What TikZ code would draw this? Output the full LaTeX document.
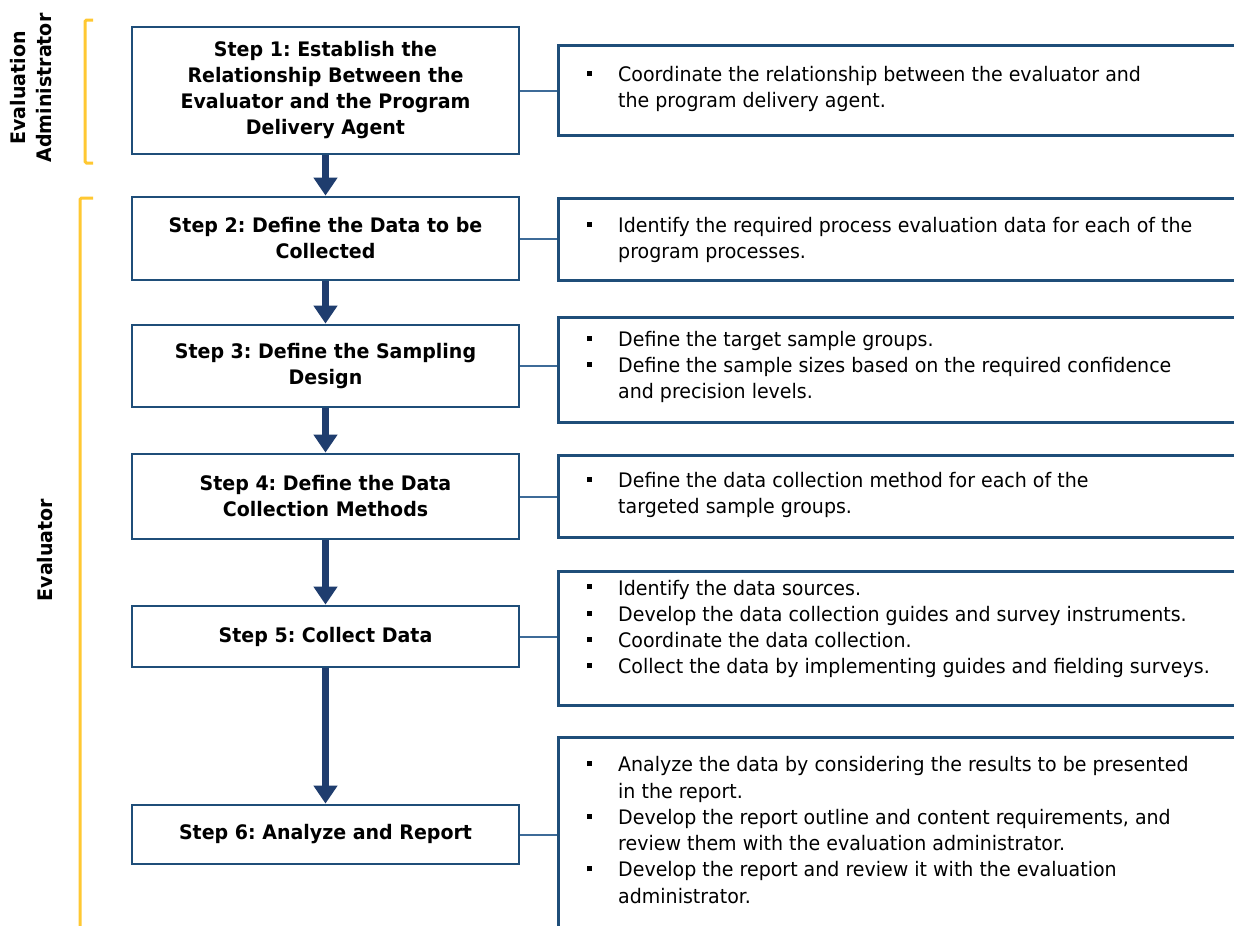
\documentclass[tikz,border=0pt]{standalone}
\usepackage{fontspec}
\setmainfont{DejaVu Sans}[FakeStretch=0.95]
\usetikzlibrary{arrows.meta}
\definecolor{boxblue}{HTML}{1F4E79}
\definecolor{arrowblue}{HTML}{1F3D6E}
\definecolor{linkblue}{HTML}{3E6B98}
\definecolor{braceyellow}{HTML}{FFC832}
\newcommand{\stepfont}{\fontsize{20}{26}\selectfont\frenchspacing}
\newcommand{\notefont}{\fontsize{20}{26.3}\selectfont\frenchspacing}
\newcommand{\itm}[1]{\makebox[31pt][l]{\rule[0.28em]{5pt}{5pt}}#1}
\newcommand{\cnt}[1]{\hspace*{31pt}#1}
\tikzset{
  stepbox/.style={draw=boxblue, line width=2.8pt, fill=white, minimum width=387pt,
    align=center, font=\stepfont\bfseries, inner sep=0pt},
  notebox/.style={draw=boxblue, line width=2.8pt, minimum width=720pt,
    anchor=north west, inner sep=0pt},
  notetext/.style={anchor=west, align=left, font=\notefont, inner sep=0pt},
  flow/.style={draw=arrowblue, line width=7pt, -{Triangle[width=23pt,length=18pt]}},
  link/.style={draw=linkblue, line width=2pt},
  brace/.style={draw=braceyellow, line width=3pt, rounded corners=1.5pt},
  role/.style={rotate=90, align=center, font=\stepfont\bfseries, inner sep=0pt},
}
\begin{document}
\begin{tikzpicture}[x=1pt, y=-1pt]
\useasboundingbox (0,0) rectangle (1234,926);
\clip (0,0) rectangle (1234,926);
\fill[white] (0,0) rectangle (1234,926);

% role labels and their brackets
\node[role] (admin) at (31,88) {Evaluation\\Administrator};
\node[role] (evaluator) at (45,550) {Evaluator};
\draw[brace] (93,20) -- (85,20) -- (85,163) -- (93,163);
\draw[brace] (93,198) -- (80,198) -- (80,940);

% process steps
\node[stepbox, minimum height=127pt] (s1) at (325.5,90.5)
  {Step 1: Establish the\\Relationship Between the\\Evaluator and the Program\\Delivery Agent};
\node[stepbox, minimum height=83pt] (s2) at (325.5,238.5)
  {Step 2: Define the Data to be\\Collected};
\node[stepbox, minimum height=82pt] (s3) at (325.5,366)
  {Step 3: Define the Sampling\\Design};
\node[stepbox, minimum height=85pt] (s4) at (325.5,496.5)
  {Step 4: Define the Data\\Collection Methods};
\node[stepbox, minimum height=61pt] (s5) at (325.5,636.5)
  {Step 5: Collect Data};
\node[stepbox, minimum height=59pt] (s6) at (325.5,834.5)
  {Step 6: Analyze and Report};

% flow between steps
\draw[flow] (s1.south) -- (s2.north);
\draw[flow] (s2.south) -- (s3.north);
\draw[flow] (s3.south) -- (s4.north);
\draw[flow] (s4.south) -- (s5.north);
\draw[flow] (s5.south) -- (s6.north);

% task boxes
\node[notebox, minimum height=90pt] (r1) at (557,44) {};
\node[notebox, minimum height=82pt] (r2) at (557,197) {};
\node[notebox, minimum height=105pt] (r3) at (557,316) {};
\node[notebox, minimum height=82pt] (r4) at (557,454) {};
\node[notebox, minimum height=134pt] (r5) at (557,570) {};
\node[notebox, minimum height=215pt] (r6) at (557,736) {};

\node[notetext] (t1) at (587,89)
  {\itm{Coordinate the relationship between the evaluator and}\\
   \cnt{the program delivery agent.}};
\node[notetext] (t2) at (587,240)
  {\itm{Identify the required process evaluation data for each of the}\\
   \cnt{program processes.}};
\node[notetext] (t3) at (587,367)
  {\itm{Define the target sample groups.}\\
   \itm{Define the sample sizes based on the required confidence}\\
   \cnt{and precision levels.}};
\node[notetext] (t4) at (587,495)
  {\itm{Define the data collection method for each of the}\\
   \cnt{targeted sample groups.}};
\node[notetext] (t5) at (587,629)
  {\itm{Identify the data sources.}\\
   \itm{Develop the data collection guides and survey instruments.}\\
   \itm{Coordinate the data collection.}\\
   \itm{Collect the data by implementing guides and fielding surveys.}};
\node[notetext] (t6) at (587,830)
  {\itm{Analyze the data by considering the results to be presented}\\
   \cnt{in the report.}\\
   \itm{Develop the report outline and content requirements, and}\\
   \cnt{review them with the evaluation administrator.}\\
   \itm{Develop the report and review it with the evaluation}\\
   \cnt{administrator.}};

% links from each step to its tasks
\foreach \i in {1,...,6}
  \draw[link] (s\i.east) -- (s\i.east -| r\i.west);
\end{tikzpicture}
\end{document}
